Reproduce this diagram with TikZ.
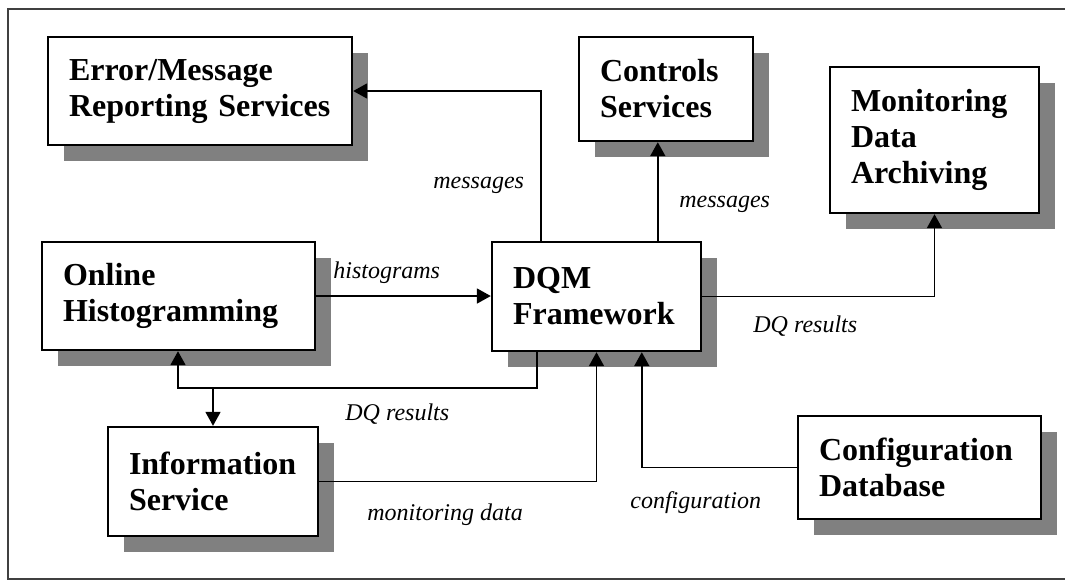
\documentclass[tikz,border=0pt]{standalone}
\usepackage{fontspec}
\setmainfont{Liberation Serif}
\usetikzlibrary{positioning,arrows.meta,shadows,calc}
\tikzset{
  unit/.style={draw,line width=1.2pt,fill=white,align=left,inner xsep=10.5pt,inner ysep=0pt,
    font=\fontsize{16}{18}\selectfont\bfseries,
    drop shadow={shadow xshift=8pt,shadow yshift=-8pt,fill=black!50,opacity=1}},
  flow/.style={line width=0.9pt,-{Triangle[length=7pt,width=7.5pt]}},
  lbl/.style={font=\fontsize{12}{14}\selectfont\itshape,inner sep=0pt,anchor=base west},
}

\begin{document}
\begin{tikzpicture}[x=0.5pt,y=-0.5pt]
\useasboundingbox (0,0) rectangle (1065,580);
\draw[black!75,line width=0.75pt] (1072,9) -- (8,9) -- (8,579) -- (1072,579);

% boxes
\node[unit,text width=131pt,minimum height=54pt] (err) at (200,91) {Error/Message\\Reporting Services};
\node[unit,text width=66pt,minimum height=52pt] (ctrl) at (666,89) {Controls\\Services};
\node[unit,text width=83.5pt,minimum height=73pt] (mda) at (934.5,140) {Monitoring\\Data\\Archiving};
\node[unit,text width=115.5pt,minimum height=54pt] (oh) at (178.5,296) {Online\\Histogramming};
\node[unit,text width=83.5pt,minimum height=54.5pt] (dqm) at (596.5,296.5) {DQM\\Framework};
\node[unit,text width=84pt,minimum height=54.5pt] (is) at (213,481.5) {Information\\Service};
\node[unit,text width=100.5pt,minimum height=51.5pt] (cdb) at (919.5,467.5) {Configuration\\Database};

% connectors
\coordinate (dqbus) at (178,388);
\draw[flow] ($(dqm.north west)+(50,0)$) |- (err.east);
\draw[flow] ($(dqm.north west)+(167,0)$) -- ($(ctrl.south west)+(80,0)$);
\draw[flow] (oh.east) -- (oh.east -| dqm.west);
\draw[flow] (dqm.east) -| (mda.south);
\draw[flow] ($(dqm.south west)+(46,0)$) |- (dqbus) -- (dqbus |- oh.south);
\draw[flow] (dqbus -| is.north) -- (is.north);
\draw[flow] (is.east) -| (dqm.south);
\draw[flow] (cdb.west) -| ($(dqm.south west)+(151,0)$);

% labels
\node[lbl] (lmsgerr) at (433,188) {messages};
\node[lbl] (lmsgctrl) at (679,207) {messages};
\node[lbl] (lhist) at (333,278) {histograms};
\node[lbl] (ldqoh) at (345,420) {DQ results};
\node[lbl] (ldqmda) at (753,332) {DQ results};
\node[lbl] (lconf) at (630,508) {configuration};
\node[lbl] (lmon) at (367,520) {monitoring data};
\end{tikzpicture}
\end{document}
